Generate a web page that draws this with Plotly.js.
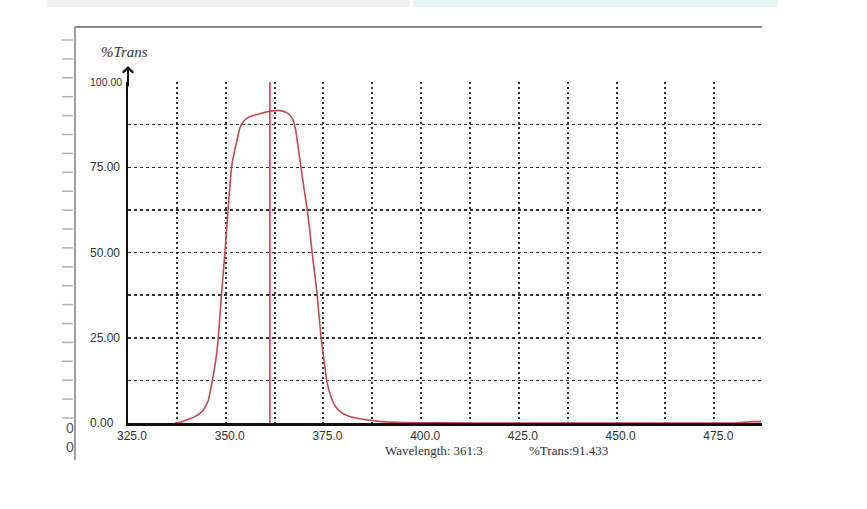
<!DOCTYPE html>
<html>
<head>
<meta charset="utf-8">
<script src="https://cdn.plot.ly/plotly-3.0.1.min.js"></script>
<style>html,body{margin:0;padding:0;background:#fff;}</style>
</head>
<body>
<div id="chart" style="width:867px;height:509px;"></div>
<script>
// ---- data ----
const wavelength = [337, 338.5, 340, 342, 344, 345.5, 346.5, 347.4, 348.1, 348.9, 349.8, 350.6, 351.5, 352.2, 352.9, 353.7, 354.6, 355.5, 357, 358.5, 360, 361.3, 362.5, 364, 365.5, 366.5, 367.3, 367.8, 368.4, 369, 370, 370.8, 371.5, 372.1, 372.8, 373.4, 374.4, 375.2, 375.9, 377, 378, 379.5, 381.5, 384, 387, 390, 395, 405, 420, 440, 460, 480, 483.5, 485, 487];
const transmission = [0, 0.3, 0.9, 1.8, 3.4, 6.5, 12, 18, 25, 37.5, 50, 62.5, 75, 79.5, 83, 86.8, 88.5, 89.4, 90.2, 90.6, 91.1, 91.43, 91.6, 91.6, 91.1, 90.2, 88.6, 86.5, 82, 77, 69, 63, 56.5, 50, 43.5, 37.5, 25, 18, 12, 7.5, 5, 3.1, 2, 1.3, 0.8, 0.4, 0.15, 0.05, 0, 0, 0, 0, 0.3, 0.4, 0.4];
const cursorWavelength = 361.3;
const cursorTrans = 91.433;
const xGridVals = [325, 337.5, 350, 362.5, 375, 387.5, 400, 412.5, 425, 437.5, 450, 462.5, 475];
const xTickText = ['325.0', '', '350.0', '', '375.0', '', '400.0', '', '425.0', '', '450.0', '', '475.0'];
const yGridVals = [12.5, 25, 37.5, 50, 62.5, 75, 87.5];
const yLabelVals = [0, 25, 50, 75, 100];
const yLabelText = ['0.00', '25.00', '50.00', '75.00', '100.00'];
const yAxisTitle = '%Trans';

// ---- layout helpers (pixel -> paper) ----
const W = 867, H = 509, L = 128, R = 105, T = 82, B = 86;
const pw = W - L - R, ph = H - T - B;
const px = x => (x - L) / pw;
const py = y => (H - B - y) / ph;

const sans = 'Liberation Sans, Arial, sans-serif';
const serif = 'Liberation Serif, Times New Roman, serif';

const traces = [
  {
    x: wavelength, y: transmission, type: 'scatter', mode: 'lines',
    line: {color: '#c24a54', width: 1.6, shape: 'spline', smoothing: 0.5},
    hoverinfo: 'skip', cliponaxis: true
  },
  {
    x: [cursorWavelength, cursorWavelength], y: [0, 100], type: 'scatter', mode: 'lines',
    line: {color: '#d01f3e', width: 1.4}, hoverinfo: 'skip'
  }
];

const annotations = [];
yLabelVals.forEach((v, i) => {
  annotations.push({
    xref: 'paper', yref: 'y', x: px(88), y: v, xanchor: 'left', yanchor: 'middle',
    text: yLabelText[i], showarrow: false,
    font: {family: sans, size: v === 100 ? 10.5 : 12, color: '#333'}
  });
});
annotations.push({
  xref: 'paper', yref: 'paper', x: px(99), y: py(52), xanchor: 'left', yanchor: 'middle',
  text: '<i>' + yAxisTitle + '</i>', showarrow: false,
  font: {family: serif, size: 15, color: '#333'}
});
annotations.push({
  xref: 'x', yref: 'paper', x: 325, y: py(66), ax: 0, ay: 22, axref: 'pixel', ayref: 'pixel',
  text: '', showarrow: true, arrowhead: 4, arrowsize: 1, arrowwidth: 2, arrowcolor: '#111'
});
annotations.push({
  xref: 'paper', yref: 'paper', x: px(383), y: py(450), xanchor: 'left', yanchor: 'middle',
  text: 'Wavelength: ' + cursorWavelength.toFixed(1), showarrow: false,
  font: {family: serif, size: 13, color: '#333'}
});
annotations.push({
  xref: 'paper', yref: 'paper', x: px(527), y: py(450), xanchor: 'left', yanchor: 'middle',
  text: '%Trans:' + cursorTrans.toFixed(3), showarrow: false,
  font: {family: serif, size: 13, color: '#333'}
});
[428, 447].forEach(y => annotations.push({
  xref: 'paper', yref: 'paper', x: px(64), y: py(y), xanchor: 'left', yanchor: 'middle',
  text: '0', showarrow: false, font: {family: sans, size: 14, color: '#555'}
}));

const shapes = [
  {type: 'rect', xref: 'paper', yref: 'paper', x0: px(47), x1: px(410), y0: py(7), y1: py(0),
   fillcolor: '#efefef', line: {width: 0}},
  {type: 'rect', xref: 'paper', yref: 'paper', x0: px(413), x1: px(778), y0: py(7), y1: py(0),
   fillcolor: '#e2f6f3', line: {width: 0}},
  {type: 'line', xref: 'paper', yref: 'paper', x0: px(75), x1: px(762), y0: py(27), y1: py(27),
   line: {color: '#8c8c8c', width: 2}},
  {type: 'line', xref: 'paper', yref: 'paper', x0: px(75), x1: px(75), y0: py(26), y1: py(460),
   line: {color: '#a0a0a0', width: 2}}
];
for (let i = 0; i < 21; i++) {
  const y = 40 + 18.9 * i;
  shapes.push({type: 'line', xref: 'paper', yref: 'paper', x0: px(62), x1: px(73), y0: py(y), y1: py(y),
    line: {color: '#b0b0b0', width: 1.5}});
}

const layout = {
  width: W, height: H,
  margin: {l: L, r: R, t: T, b: B, pad: 0},
  paper_bgcolor: '#ffffff', plot_bgcolor: '#ffffff',
  showlegend: false,
  xaxis: {
    range: [325, 487.2], tickmode: 'array', tickvals: xGridVals, ticktext: xTickText,
    showgrid: true, gridcolor: '#333', gridwidth: 2, griddash: '2px,3px',
    showline: true, linecolor: '#111', linewidth: 2.5, zeroline: false,
    ticks: '', ticklabelshift: 4, ticklabelstandoff: 0,
    tickfont: {family: sans, size: 12, color: '#333'},
    layer: 'below traces', fixedrange: true
  },
  yaxis: {
    range: [0, 100], tickmode: 'array', tickvals: yGridVals, showticklabels: false,
    showgrid: true, gridcolor: '#333', gridwidth: 1.5, griddash: '3px,3px',
    showline: true, linecolor: '#111', linewidth: 2, zeroline: false, ticks: '',
    layer: 'below traces', fixedrange: true
  },
  annotations: annotations,
  shapes: shapes
};

Plotly.newPlot('chart', traces, layout, {staticPlot: true, displayModeBar: false});
</script>
</body>
</html>
